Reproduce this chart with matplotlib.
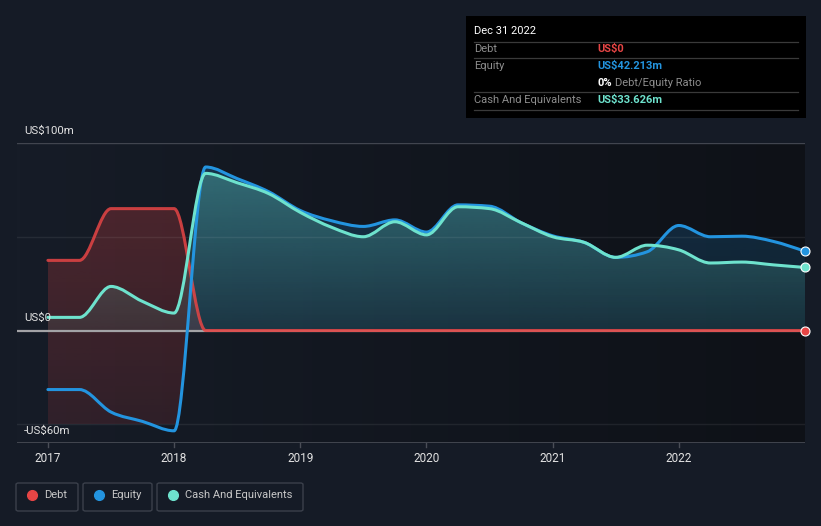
import numpy as np
import matplotlib
matplotlib.use("Agg")
import matplotlib.pyplot as plt
from matplotlib.path import Path
from matplotlib.patches import PathPatch, Rectangle, FancyBboxPatch
from matplotlib.lines import Line2D
from matplotlib.colors import to_rgb

plt.rcParams['font.family'] = ['Roboto', 'DejaVu Sans']

# quarter ends, Dec 31 2016 .. Dec 31 2022 (decimal years)
dates = [2017.0, 2017.25, 2017.5, 2017.75,
         2018.0, 2018.25, 2018.5, 2018.75,
         2019.0, 2019.25, 2019.5, 2019.75,
         2020.0, 2020.25, 2020.5, 2020.75,
         2021.0, 2021.25, 2021.5, 2021.75,
         2022.0, 2022.25, 2022.5, 2022.75,
         2023.0]

# values in US$m
debt = [37.4, 37.4, 65, 65,
        65, 0, 0, 0,
        0, 0, 0, 0,
        0, 0, 0, 0,
        0, 0, 0, 0,
        0, 0, 0, 0,
        0]
equity = [-31.5, -31.5, -43.5, -48.5,
          -53.5, 87.2, 81, 74,
          64, 58.5, 55.5, 59,
          52.5, 67, 66.3, 57.5,
          50.5, 47, 39, 42,
          56, 50, 50.3, 47.5,
          42.213]
cash = [7, 7, 23.5, 15.5,
        9.3, 83.8, 78.8, 73,
        63, 55, 50, 58,
        51, 66, 65, 57.5,
        50, 47, 39, 45.5,
        43, 36, 36.5, 35,
        33.626]

years = [2017, 2018, 2019, 2020, 2021, 2022]
year_labels = ['2017', '2018', '2019', '2020', '2021', '2022']

C_DEBT = '#e64545'
C_EQ = '#2394df'
C_CASH = '#6ee2cd'
BG = '#151b26'

W, H = 821, 526


def fx(x):
    return x / W


def fy(y):
    return 1 - y / H


def mono_verts(xs, ys):
    # monotone cubic (like d3 curveMonotoneX) as bezier control points
    xs = np.asarray(xs, float)
    ys = np.asarray(ys, float)
    n = len(xs)
    h = np.diff(xs)
    s = np.diff(ys) / h
    t = np.zeros(n)
    for i in range(1, n - 1):
        p = (s[i - 1] * h[i] + s[i] * h[i - 1]) / (h[i - 1] + h[i])
        t[i] = (np.sign(s[i - 1]) + np.sign(s[i])) * min(abs(s[i - 1]), abs(s[i]), 0.5 * abs(p))
    t[0] = (3 * s[0] - t[1]) / 2
    t[-1] = (3 * s[-1] - t[-2]) / 2
    verts = [(xs[0], ys[0])]
    codes = [Path.MOVETO]
    for i in range(n - 1):
        d = h[i] / 3
        verts += [(xs[i] + d, ys[i] + d * t[i]),
                  (xs[i + 1] - d, ys[i + 1] - d * t[i + 1]),
                  (xs[i + 1], ys[i + 1])]
        codes += [Path.CURVE4] * 3
    return verts, codes


def area_path(xs, ys, base):
    v, c = mono_verts(xs, ys)
    v = v + [(xs[-1], base), (xs[0], base), (xs[0], base)]
    c = c + [Path.LINETO, Path.LINETO, Path.CLOSEPOLY]
    return Path(v, c)


def grad_fill(ax, path, color, a_top, a_bot, y_top, y_bot, z):
    patch = PathPatch(path, facecolor='none', edgecolor='none')
    ax.add_patch(patch)
    g = np.zeros((256, 1, 4))
    g[:, :, :3] = to_rgb(color)
    g[:, 0, 3] = np.linspace(a_top, a_bot, 256)
    im = ax.imshow(g, extent=[dates[0], dates[-1], y_bot, y_top], origin='upper',
                   aspect='auto', zorder=z, interpolation='bilinear')
    im.set_clip_path(patch)


fig = plt.figure(figsize=(W / 100, H / 100), dpi=100, facecolor=BG)
ax = fig.add_axes([fx(17), fy(443), 788 / W, 300 / H])
ax.set_facecolor(BG)
for sp in ax.spines.values():
    sp.set_visible(False)
ax.set_xticks([])
ax.set_yticks([])

x_lo, x_hi = 2016.755, 2023.0
y_lo, y_hi = -60, 100
ax.set_xlim(x_lo, x_hi)
ax.set_ylim(y_lo, y_hi)

# background horizontal gradient
bg = np.zeros((1, 256, 3))
c0 = np.array(to_rgb('#161c27'))
c1 = np.array(to_rgb('#0e1117'))
for k in range(3):
    bg[0, :, k] = np.linspace(c0[k], c1[k], 256)
ax.imshow(bg, extent=[x_lo, x_hi, y_lo, y_hi], aspect='auto', zorder=0)

# debt area: above zero under the debt curve, below zero left of the rising equity curve
eq_disp = ax.transData.transform_path(Path(*mono_verts(dates, equity)))
eq_poly = ax.transData.inverted().transform(eq_disp.to_polygons(closed_only=False)[0])
i_min = int(np.argmin(equity))
rise = eq_poly[(eq_poly[:, 0] >= dates[i_min]) & (eq_poly[:, 0] <= dates[i_min + 1])]
rise = rise[np.argsort(rise[:, 1])]
x_bot = np.interp(-50, rise[:, 1], rise[:, 0])
x_top = np.interp(0, rise[:, 1], rise[:, 0])
mid = [tuple(p) for p in rise if -50 < p[1] < 0]
low = [(dates[0], -50), (x_bot, -50)] + mid + [(x_top, 0), (dates[0], 0), (dates[0], -50)]
low_path = Path(low, [Path.MOVETO] + [Path.LINETO] * (len(low) - 2) + [Path.CLOSEPOLY])
debt_path = Path.make_compound_path(area_path(dates, debt, 0), low_path)

grad_fill(ax, debt_path, C_DEBT, 0.26, 0.13, 65, -50, 1)
grad_fill(ax, area_path(dates, equity, 0), C_EQ, 0.22, 0.12, 88, 0, 2)
grad_fill(ax, area_path(dates, cash, 0), C_CASH, 0.33, 0.08, 88, 0, 3)

# grid
ax.axhline(100, color='#41454f', lw=1, zorder=4)
ax.axhline(50, color='white', alpha=0.07, lw=1, zorder=4)
ax.axhline(-50, color='white', alpha=0.07, lw=1, zorder=4)
ax.axhline(-60, color='#4a4e57', lw=1.2, zorder=4)
ax.axhline(0, color='#a3a3a6', lw=1.6, zorder=4)

# lines
for vals, col, a in [(debt, C_DEBT, 0.85), (equity, C_EQ, 1), (cash, C_CASH, 1)]:
    v, c = mono_verts(dates, vals)
    ax.add_patch(PathPatch(Path(v, c), facecolor='none', edgecolor=col, lw=2.2,
                           alpha=a, capstyle='round', joinstyle='round', zorder=5))

# end markers
for vals, col in [(debt, C_DEBT), (equity, C_EQ), (cash, C_CASH)]:
    ax.plot([dates[-1]], [vals[-1]], 'o', ms=6.5, mfc=col, mec='white', mew=0.8,
            zorder=6, clip_on=False)

# x ticks
for yr, lab in zip(years, year_labels):
    ax.plot([yr, yr], [-60, -62.3], color='#4a4e57', lw=1, clip_on=False, zorder=4)
    ax.text(yr, -68.5, lab, color='#e2e2e2', fontsize=8.5, ha='center', va='center')

ax.set_xlim(x_lo, x_hi)
ax.set_ylim(y_lo, y_hi)

# y labels
fig.text(fx(24), fy(131), 'US$100m', color='#e2e2e2', fontsize=8.2, va='center')
fig.text(fx(24), fy(318), 'US$0', color='#e2e2e2', fontsize=8.2, va='center', zorder=10)
fig.text(fx(24), fy(431), '-US$60m', color='#e2e2e2', fontsize=8.2, va='center')

# tooltip box
fig.add_artist(Rectangle((fx(466), fy(118)), 340 / W, 102 / H, transform=fig.transFigure,
                         facecolor='black', edgecolor='none', zorder=20))
fig.text(fx(474), fy(31.5), 'Dec 31 2022', color='white', fontsize=8, va='center', zorder=21)
for yy in [41.7, 58.3, 92.3, 110]:
    fig.add_artist(Line2D([fx(474), fx(798)], [fy(yy), fy(yy)], transform=fig.transFigure,
                          color='#3a3a3a', lw=0.9, zorder=21))
rows = [('Debt', 'US$0', C_DEBT, 49.3),
        ('Equity', 'US$42.213m', C_EQ, 66),
        ('Cash And Equivalents', 'US$33.626m', C_CASH, 100)]
for lab, val, col, yy in rows:
    fig.text(fx(474), fy(yy), lab, color='#8e8e8e', fontsize=8, va='center', zorder=21)
    fig.text(fx(597), fy(yy), val, color=col, fontsize=8, va='center',
             fontweight='bold', zorder=21)
pct = fig.text(fx(597), fy(82.7), '0%', color='white', fontsize=8, va='center',
               fontweight='bold', zorder=21)
fig.add_artist(plt.Annotation('Debt/Equity Ratio', xy=(1, 0.5), xycoords=pct,
                              xytext=(2.5, 0), textcoords='offset points',
                              color='#8e8e8e', fontsize=8, va='center', zorder=21))

# legend
legend = [('Debt', C_DEBT, 16, 78), ('Equity', C_EQ, 83, 152),
          ('Cash And Equivalents', C_CASH, 157, 303)]
for lab, col, x0, x1 in legend:
    fig.add_artist(FancyBboxPatch((fx(x0), fy(511)), (x1 - x0) / W, 28 / H,
                                  boxstyle='round,pad=0,rounding_size=0.003',
                                  transform=fig.transFigure, facecolor='none',
                                  edgecolor='#3b404b', lw=1))
    fig.add_artist(Line2D([fx(x0 + 16)], [fy(495)], marker='o', ms=7, mfc=col, mec=col,
                          transform=fig.transFigure))
    fig.text(fx(x0 + 28), fy(495), lab, color='#c8c8c8', fontsize=8, va='center')

fig.savefig('out.png', dpi=100, facecolor=BG)
